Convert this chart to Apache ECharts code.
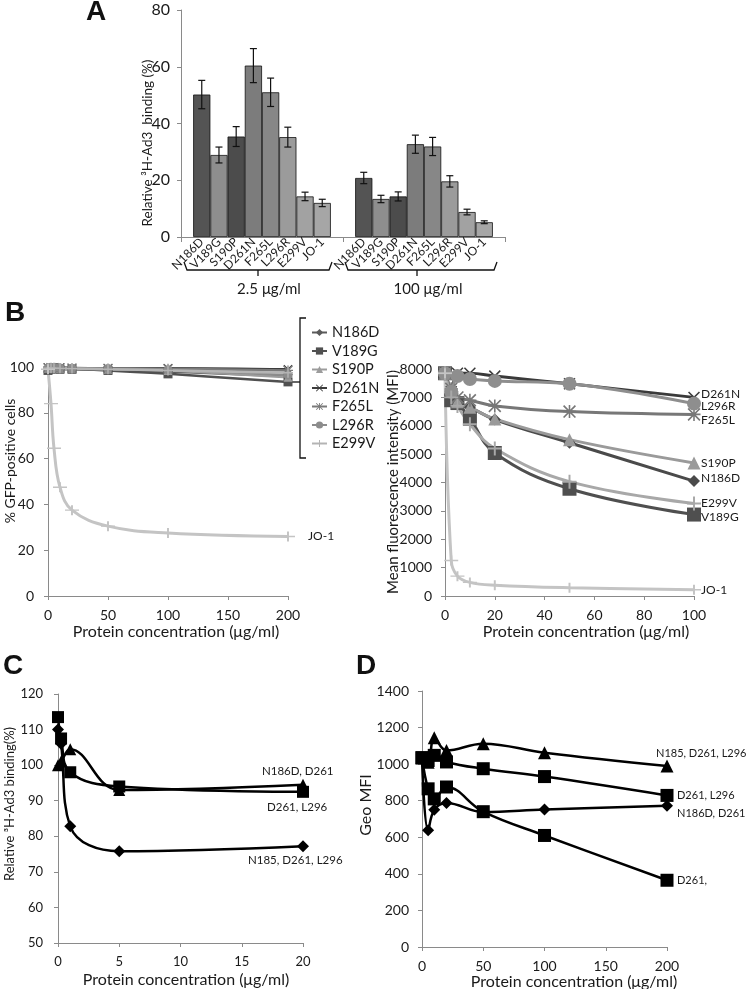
<!DOCTYPE html>
<html><head><meta charset="utf-8">
<script src="https://cdn.jsdelivr.net/npm/echarts@6/dist/echarts.min.js"></script>
<style>html,body{margin:0;padding:0;background:#fff}#c{width:750px;height:989px}</style>
</head><body><div id="c"></div><script>
// ---------- DATA ----------
// Panel A
const barNames = ['N186D','V189G','S190P','D261N','F265L','L296R','E299V','JO-1'];
const doseGroups = ['2.5 μg/ml','100 μg/ml'];
const binding25 = [50.2, 28.9, 35.4, 60.4, 51.0, 35.2, 14.3, 12.0];
const binding100 = [20.8, 13.4, 14.3, 32.7, 31.9, 19.6, 8.8, 5.2];
const err25 = [5.0, 2.8, 3.5, 6.0, 5.0, 3.5, 1.5, 1.3];
const err100 = [2.0, 1.3, 1.6, 3.2, 3.2, 2.0, 1.0, 0.5];

// Panel B (left) % GFP-positive
const concB1 = [0, 2.5, 5, 10, 20, 50, 100, 200];
const gfpN186D = [99.5, 99.5, 99.5, 99.3, 99.2, 98.8, 98.0, 96.0];
const gfpV189G = [98.5, 99.0, 99.3, 99.0, 99.0, 98.5, 97.0, 93.5];
const gfpS190P = [99.5, 99.6, 99.6, 99.5, 99.4, 99.0, 98.5, 95.5];
const gfpD261N = [99.8, 99.8, 99.8, 99.8, 99.6, 99.5, 99.5, 99.0];
const gfpF265L = [99.6, 99.7, 99.7, 99.6, 99.5, 99.3, 99.2, 98.5];
const gfpL296R = [99.6, 99.7, 99.7, 99.6, 99.5, 99.3, 98.8, 96.5];
const gfpE299V = [99.5, 99.5, 99.5, 99.4, 99.3, 99.0, 98.5, 97.5];
const gfpJO1 = [99.0, 84.0, 64.5, 47.5, 37.5, 30.5, 27.5, 26.0];

// Panel B (right) MFI
const concB2 = [0, 2.5, 5, 10, 20, 50, 100];
const mfiN186D = [7850, 7100, 6800, 6650, 6220, 5400, 4050];
const mfiV189G = [7850, 6900, 6800, 6250, 5040, 3780, 2870];
const mfiS190P = [7850, 7250, 6850, 6650, 6240, 5510, 4690];
const mfiD261N = [7850, 7200, 7850, 7850, 7750, 7480, 7000];
const mfiF265L = [7850, 7300, 7000, 6900, 6700, 6500, 6400];
const mfiL296R = [7850, 7200, 7750, 7650, 7580, 7480, 6780];
const mfiE299V = [7850, 7000, 6700, 6050, 5200, 4030, 3260];
const mfiJO1 = [7850, 1250, 700, 480, 380, 290, 220];

// Panel C relative binding
const concC = [0, 0.25, 1, 5, 20];
const cTriangle = [100, 101, 104.5, 93, 94.5];      // N186D, D261
const cSquare = [113.5, 107.5, 98, 94, 92.5];       // D261, L296
const cDiamond = [110, 106, 82.8, 75.8, 77.2];      // N185, D261, L296

// Panel D Geo MFI
const concD = [0, 5, 10, 20, 50, 100, 200];
const dTriangle = [1035, 1010, 1145, 1075, 1112, 1062, 990];  // N185, D261, L296
const dSquareA = [1035, 1020, 1048, 1012, 975, 932, 829];     // D261, L296
const dDiamond = [1035, 638, 750, 788, 738, 752, 772];        // N186D, D261
const dSquareB = [1035, 865, 810, 875, 740, 610, 365];        // D261,

// ---------- STYLE ----------
const FONT = 'Lato';
const TXT = '#1a1a1a';
const AX = '#8a8a8a';
const P_PLUS = 'path://M4.3,0H5.7V4.3H10V5.7H5.7V10H4.3V5.7H0V4.3H4.3Z';
const P_X = 'path://M0,0.9L0.9,0L10,9.1L9.1,10ZM9.1,0L10,0.9L0.9,10L0,9.1Z';
const P_AST = 'path://M0,0.9L0.9,0L10,9.1L9.1,10ZM9.1,0L10,0.9L0.9,10L0,9.1ZM4.4,0H5.6V10H4.4ZM0,4.4H10V5.6H0Z';

const barColors = ['#545454','#8e8e8e','#4c4c4c','#7c7c7c','#878787','#9b9b9b','#a2a2a2','#a6a6a6'];
const mutantNames = ['N186D','V189G','S190P','D261N','F265L','L296R','E299V'];
const mutSym = ['diamond','rect','triangle',P_X,P_AST,'circle',P_PLUS];
const colL = ['#5a5a5a','#505050','#9c9c9c','#3c3c3c','#7a7a7a','#8c8c8c','#b4b4b4'];
const colR = ['#4a4a4a','#4f4f4f','#9a9a9a','#3a3a3a','#777777','#8e8e8e','#a8a8a8'];
const symSizeL = [9, 9, 9, 9, 10, 9, 10];
const symSizeR = [12, 14, 13, 12, 13, 14, 14];
const endOffR = [-3, 3, 0, -3, 6, 3, 0];

const plain = v => String(v);
function axisCommon(gi) {
  return {
    gridIndex: gi,
    axisLine: {show: true, lineStyle: {color: AX, width: 1}},
    axisTick: {show: true, inside: false, length: 4, lineStyle: {color: AX}},
    splitLine: {show: false},
  };
}
function lab(size, margin) { return {color: TXT, fontFamily: FONT, fontSize: size, margin: margin, formatter: plain}; }
function valX(gi, min, max, interval, gap, padL, size, tsize) {
  return Object.assign(axisCommon(gi), {type: 'value', min, max, interval,
    axisLabel: lab(size, 12), name: 'Protein concentration (μg/ml)', nameLocation: 'middle', nameGap: gap,
    nameTextStyle: {color: TXT, fontFamily: FONT, fontSize: tsize, padding: [0, 0, 0, padL]}});
}
function valY(gi, min, max, interval, size, margin) {
  return Object.assign(axisCommon(gi), {type: 'value', min, max, interval, axisLabel: lab(size, margin)});
}
const zip = (xs, ys) => xs.map((x, i) => [x, ys[i]]);

const chart = echarts.init(document.getElementById('c'), null, {renderer: 'canvas'});

const grids = [
  {left: 181, top: 10, width: 324, height: 227},
  {left: 48, top: 367, width: 240, height: 229},
  {left: 445, top: 369, width: 249, height: 227},
  {left: 58, top: 694, width: 245, height: 249},
  {left: 422, top: 691, width: 245, height: 256},
].map(g => Object.assign(g, {outerBoundsMode: 'none', containLabel: false}));

const xAxes = [
  Object.assign(axisCommon(0), {type: 'category', data: doseGroups, axisLabel: {show: false},
    axisTick: {show: true, length: 5, lineStyle: {color: AX}}}),
  valX(1, 0, 200, 50, 28, 16, 14, 16),
  valX(2, 0, 100, 20, 28, 33, 14, 16),
  valX(3, 0, 20, 5, 29, 11, 13, 16),
  valX(4, 0, 200, 50, 27, 59, 14, 16),
];
const yAxes = [
  valY(0, 0, 80, 20, 16, 11),
  valY(1, 0, 100, 20, 14, 14),
  valY(2, 0, 8000, 1000, 14, 13),
  valY(3, 50, 120, 10, 13, 15),
  valY(4, 0, 1400, 200, 14, 13),
];

const series = [];
// B-left (first so legend picks these icons)
mutantNames.forEach((n, i) => {
  const ys = [gfpN186D, gfpV189G, gfpS190P, gfpD261N, gfpF265L, gfpL296R, gfpE299V][i];
  series.push({type: 'line', name: n, xAxisIndex: 1, yAxisIndex: 1, data: zip(concB1, ys),
    smooth: 0.4, symbol: mutSym[i], symbolSize: symSizeL[i], clip: false,
    lineStyle: {color: colL[i], width: 2.5}, itemStyle: {color: colL[i]}});
});
series.push({type: 'line', name: 'JO-1 gfp', xAxisIndex: 1, yAxisIndex: 1, data: zip(concB1, gfpJO1),
  smooth: 0.4, symbol: P_PLUS, symbolSize: [14, 10], clip: false,
  lineStyle: {color: '#c4c4c4', width: 3}, itemStyle: {color: '#c4c4c4'},
  endLabel: {show: true, formatter: 'JO-1', distance: 20, color: TXT, fontFamily: FONT, fontSize: 12}});

// B-right
mutantNames.forEach((n, i) => {
  const ys = [mfiN186D, mfiV189G, mfiS190P, mfiD261N, mfiF265L, mfiL296R, mfiE299V][i];
  series.push({type: 'line', name: n, xAxisIndex: 2, yAxisIndex: 2, data: zip(concB2, ys),
    smooth: 0.4, symbol: mutSym[i], symbolSize: symSizeR[i], clip: false,
    lineStyle: {color: colR[i], width: 3}, itemStyle: {color: colR[i]},
    endLabel: {show: true, formatter: n, distance: 7, offset: [0, endOffR[i]], color: TXT, fontFamily: FONT, fontSize: 12}});
});
series.push({type: 'line', name: 'JO-1 mfi', xAxisIndex: 2, yAxisIndex: 2, data: zip(concB2, mfiJO1),
  smooth: 0.4, symbol: P_PLUS, symbolSize: [14, 10], clip: false,
  lineStyle: {color: '#c4c4c4', width: 3}, itemStyle: {color: '#c4c4c4'},
  endLabel: {show: true, formatter: 'JO-1', distance: 7, color: TXT, fontFamily: FONT, fontSize: 12}});

// A bars
barNames.forEach((n, i) => {
  series.push({type: 'bar', name: 'A ' + n, xAxisIndex: 0, yAxisIndex: 0,
    data: [binding25[i], binding100[i]], barGap: '0%', barCategoryGap: '15%',
    itemStyle: {color: barColors[i], borderColor: '#111', borderWidth: 0.8},
    label: {show: true, position: 'bottom', distance: 3, rotate: 45, align: 'right', verticalAlign: 'middle',
      formatter: n, fontFamily: FONT, fontSize: 12, color: TXT}});
});
const errData = [];
[binding25, binding100].forEach((vals, g) => {
  const errs = g === 0 ? err25 : err100;
  vals.forEach((v, k) => errData.push([g, k, v - errs[k], v + errs[k]]));
});
series.push({type: 'custom', xAxisIndex: 0, yAxisIndex: 0, data: errData, encode: {x: 0, y: [2, 3]}, z: 10,
  renderItem(params, api) {
    const cat = api.value(0), k = api.value(1);
    const lo = api.coord([cat, api.value(2)]), hi = api.coord([cat, api.value(3)]);
    const band = api.size([1, 0])[0];
    const bw = band * 0.85 / 8;
    const x = lo[0] + (k - 3.5) * bw;
    const cap = 3.5, st = {stroke: '#111', lineWidth: 1.2};
    return {type: 'group', children: [
      {type: 'line', shape: {x1: x, y1: lo[1], x2: x, y2: hi[1]}, style: st},
      {type: 'line', shape: {x1: x - cap, y1: hi[1], x2: x + cap, y2: hi[1]}, style: st},
      {type: 'line', shape: {x1: x - cap, y1: lo[1], x2: x + cap, y2: lo[1]}, style: st},
    ]};
  }});

// C
const cLab = {color: TXT, fontFamily: FONT, fontSize: 11.5};
[[cTriangle, 'triangle', 12, 'N186D, D261', [-46, -13]],
 [cSquare, 'rect', 12, 'D261, L296', [-41, 15]],
 [cDiamond, 'diamond', 12, 'N185, D261, L296', [-60, 14]]].forEach(([ys, sym, sz, lbl, off]) => {
  series.push({type: 'line', name: 'C ' + lbl, xAxisIndex: 3, yAxisIndex: 3, data: zip(concC, ys),
    smooth: 0.4, symbol: sym, symbolSize: sz, clip: false,
    lineStyle: {color: '#000', width: 2.5}, itemStyle: {color: '#000'},
    endLabel: Object.assign({show: true, formatter: lbl, distance: 5, offset: off}, cLab)});
});
// D
const dLab = {color: TXT, fontFamily: FONT, fontSize: 11};
[[dTriangle, 'triangle', 13, 'N185, D261, L296', [-16, -13]],
 [dSquareA, 'rect', 13, 'D261, L296', [5, 0]],
 [dDiamond, 'diamond', 12, 'N186D, D261', [5, 8]],
 [dSquareB, 'rect', 13, 'D261,', [5, 0]]].forEach(([ys, sym, sz, lbl, off]) => {
  series.push({type: 'line', name: 'D ' + lbl, xAxisIndex: 4, yAxisIndex: 4, data: zip(concD, ys),
    smooth: 0.4, symbol: sym, symbolSize: sz, clip: false,
    lineStyle: {color: '#000', width: 2.5}, itemStyle: {color: '#000'},
    endLabel: Object.assign({show: true, formatter: lbl, distance: 5, offset: off}, dLab)});
});

const br = {stroke: '#111', lineWidth: 1.3, fill: null};
const letter = (t, x, y) => ({type: 'text', x, y, style: {text: t, fontFamily: 'Liberation Sans', fontWeight: 'bold', fontSize: 28,
  fill: '#111', align: 'center', verticalAlign: 'middle'}});
const grpText = (t, x, y) => ({type: 'text', x, y, style: {text: t, fontFamily: FONT, fontSize: 15, fill: TXT,
  align: 'center', verticalAlign: 'middle'}});
const yTitle = (t, x, y, size) => ({type: 'text', x, y, rotation: Math.PI / 2, style: {text: t, fontFamily: FONT,
  fontSize: size, fill: TXT, align: 'center', verticalAlign: 'middle'}});

chart.setOption({
  animation: false,
  backgroundColor: '#fff',
  grid: grids,
  xAxis: xAxes,
  yAxis: yAxes,
  legend: {data: mutantNames, orient: 'vertical', left: 306, top: 320, itemWidth: 15, itemHeight: 9, itemGap: 3.5,
    textStyle: {color: TXT, fontFamily: FONT, fontSize: 14.5}, selectedMode: false},
  series,
  graphic: [
    letter('A', 96, 12), letter('B', 15, 313), letter('C', 13, 666), letter('D', 366, 666),
    yTitle('Relative ³H-Ad3  binding (%)', 148, 143, 13.5),
    yTitle('% GFP-positive cells', 10, 461, 14),
    yTitle('Mean fluorescence intensity (MFI)', 393, 482, 15),
    yTitle('Relative ³H-Ad3 binding(%)', 10, 804, 13),
    yTitle('Geo MFI', 366, 805, 16),
    {type: 'polyline', shape: {points: [[184, 262], [187, 270], [329, 270], [332, 262]]}, style: br},
    {type: 'line', shape: {x1: 258, y1: 270, x2: 258, y2: 276}, style: br},
    {type: 'polyline', shape: {points: [[345, 262], [348, 270], [494, 270], [497, 262]]}, style: br},
    {type: 'line', shape: {x1: 417, y1: 270, x2: 417, y2: 276}, style: br},
    grpText('2.5 μg/ml', 269, 289), grpText('100 μg/ml', 428, 289),
    {type: 'polyline', shape: {points: [[306, 318], [300, 318], [300, 458], [306, 458]]}, style: br},
    {type: 'line', shape: {x1: 300, y1: 382, x2: 292, y2: 382}, style: br},
  ]
});
</script></body></html>
